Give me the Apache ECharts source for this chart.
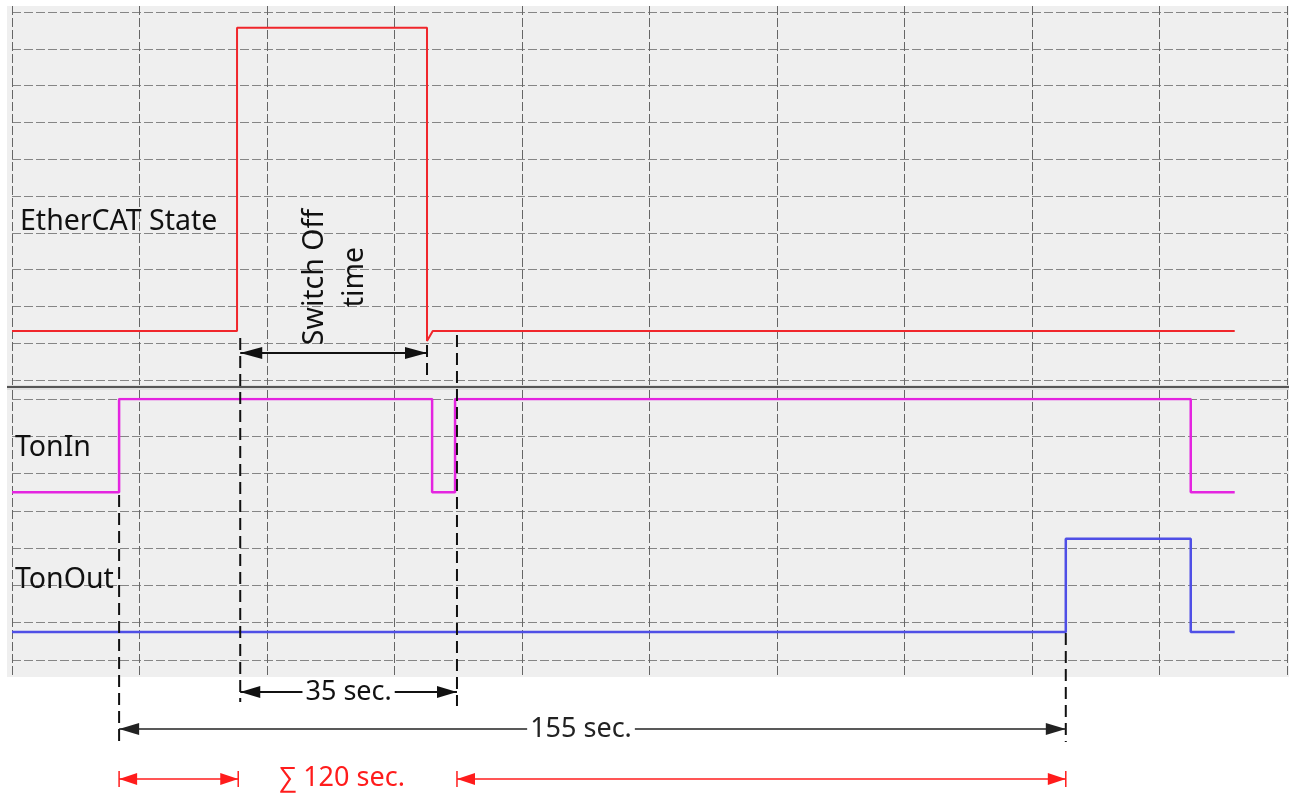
<!DOCTYPE html>
<html>
<head>
<meta charset="utf-8">
<script src="https://cdn.jsdelivr.net/npm/echarts@6/dist/echarts.min.js"></script>
<style>
html,body{margin:0;padding:0;background:#fff;}
#c{width:1289px;height:796px;}
</style>
</head>
<body>
<div id="c"></div>
<script>
// ---- data (time axis in seconds, grid step 20 s) ----
const xTicks = { min: 0, max: 200, step: 20 };
const stateT  = [0, 35.3, 35.3, 65.1, 65.1, 66.0, 191.8];
const stateV  = [1.33, 1.33, 9.57, 9.57, 1.06, 1.33, 1.33];
const tonInT  = [0, 16.8, 16.8, 65.9, 65.9, 69.5, 69.5, 184.9, 184.9, 191.8];
const tonInV  = [4.5, 4.5, 7.0, 7.0, 4.5, 4.5, 7.0, 7.0, 4.5, 4.5];
const tonOutT = [0, 165.3, 165.3, 184.9, 184.9, 191.8];
const tonOutV = [0.75, 0.75, 3.25, 3.25, 0.75, 0.75];
const signalNames = ['EtherCAT State', 'TonIn', 'TonOut'];
// annotation marker times
const markTonInRise = 16.8;
const markStateRise = 35.8;
const markStateFall = 65.1;
const markTonInBack = 69.8;
const markTonOutRise = 165.3;
const annTexts = ['Switch Off\ntime', '35 sec.', '155 sec.', '\u2211 120 sec.'];

const zip = (a, b) => a.map((t, i) => [t, b[i]]);
const FONT = '27px "Noto Sans", "Open Sans", sans-serif';
const FONT_L = '28.5px "Noto Sans", "Open Sans", sans-serif';
const chart = echarts.init(document.getElementById('c'), null, { renderer: 'canvas' });

const gridLine = { show: true, lineStyle: { color: '#858585', width: 1, type: [9, 3] } };
function xAx(gi, split) {
  return { type: 'value', gridIndex: gi, min: xTicks.min, max: xTicks.max, interval: xTicks.step,
    axisLine: { show: false }, axisTick: { show: false }, axisLabel: { show: false },
    splitLine: split ? { show: true, lineStyle: { color: '#666', width: 1, type: [9, 3] } } : { show: false } };
}
function yAx(gi, max, split) {
  return { type: 'value', gridIndex: gi, min: 0, max: max, interval: 1,
    axisLine: { show: false }, axisTick: { show: false }, axisLabel: { show: false },
    splitLine: split ? gridLine : { show: false } };
}

chart.setOption({
  animation: false,
  backgroundColor: '#ffffff',
  grid: [
    { left: 12, width: 1275, top: 12, height: 368 },
    { left: 12, width: 1275, top: 399, height: 261 },
    { left: 12, width: 1275, top: 6, height: 379 },
    { left: 12, width: 1275, top: 390, height: 287 }
  ],
  xAxis: [xAx(0, false), xAx(1, false), xAx(2, true), xAx(3, true)],
  yAxis: [yAx(0, 10, true), yAx(1, 7, true), yAx(2, 1, false), yAx(3, 1, false)],
  series: [
    { name: signalNames[0], type: 'line', xAxisIndex: 0, yAxisIndex: 0, showSymbol: false, z: 5,
      data: zip(stateT, stateV), lineStyle: { color: '#f0262b', width: 2 } },
    { name: signalNames[1], type: 'line', xAxisIndex: 1, yAxisIndex: 1, showSymbol: false, z: 5,
      data: zip(tonInT, tonInV), lineStyle: { color: '#e424e0', width: 2.5 } },
    { name: signalNames[2], type: 'line', xAxisIndex: 1, yAxisIndex: 1, showSymbol: false, z: 5,
      data: zip(tonOutT, tonOutV), lineStyle: { color: '#4f4fe6', width: 2.5 } }
  ]
});

// ---- annotations, positioned through the x scale ----
const X = t => chart.convertToPixel({ xAxisIndex: 0 }, t);
const ctx = document.createElement('canvas').getContext('2d');
ctx.font = FONT;
const tw = s => ctx.measureText(s).width;

const G = [];
// panel backgrounds and separator
G.push({ type: 'rect', z: -10, shape: { x: 7, y: 6, width: 1282, height: 379 }, style: { fill: '#efefef' }, silent: true });
G.push({ type: 'rect', z: -10, shape: { x: 7, y: 390, width: 1282, height: 287 }, style: { fill: '#efefef' }, silent: true });
G.push({ type: 'rect', z: -10, shape: { x: 7, y: 385, width: 1282, height: 5 }, style: { fill: '#dedede' }, silent: true });
G.push({ type: 'line', z: 1, shape: { x1: 7, y1: 387, x2: 1289, y2: 387 }, style: { stroke: '#555', lineWidth: 2 }, silent: true });

function vdash(t, y1, y2) {
  const x = X(t);
  G.push({ type: 'line', z: 20, shape: { x1: x, y1: y1, x2: x, y2: y2 }, style: { stroke: '#111', lineWidth: 2, lineDash: [12, 6] } });
}
function seg(x1, x2, y, color, w) {
  G.push({ type: 'line', z: 20, shape: { x1: x1, y1: y, x2: x2, y2: y }, style: { stroke: color, lineWidth: w } });
}
function head(x, y, dir, color, len, half) {
  G.push({ type: 'polygon', z: 21, shape: { points: [[x, y], [x - dir * len, y - half], [x - dir * len, y + half]] }, style: { fill: color } });
}
function bar(x, y, color) {
  G.push({ type: 'line', z: 21, shape: { x1: x, y1: y - 8, x2: x, y2: y + 8 }, style: { stroke: color, lineWidth: 1.5 } });
}
function label(text, x, y, color) {
  G.push({ type: 'text', z: 22, x: x, y: y, style: { text: text, font: FONT, fill: color,
    align: 'center', verticalAlign: 'middle', textAlign: 'center', textVerticalAlign: 'middle' } });
}
function dimArrow(xa, xb, y, text, xc, color, w) {
  const half = tw(text) / 2 + 3;
  seg(xa, xc - half, y, color, w);
  seg(xc + half, xb, y, color, w);
  head(xa, y, -1, color, 20, 6);
  head(xb, y, 1, color, 20, 6);
  label(text, xc, y, color);
}

// dashed guide lines
vdash(markTonInRise, 495, 742);
vdash(markStateRise, 338, 702);
vdash(markStateFall, 345, 376);
vdash(markTonInBack, 335, 706);
vdash(markTonOutRise, 633, 742);

// Switch Off time
const xs1 = X(markStateRise), xs2 = X(markStateFall);
seg(xs1, xs2, 353, '#111', 2);
head(xs1, 353, -1, '#111', 22, 6);
head(xs2, 353, 1, '#111', 22, 6);
G.push({ type: 'text', z: 22, x: 335, y: 277, rotation: Math.PI / 2,
  style: { text: annTexts[0], font: FONT_L, fill: '#111', lineHeight: 40,
    align: 'center', verticalAlign: 'middle', textAlign: 'center', textVerticalAlign: 'middle' } });

// 35 sec.
dimArrow(X(markStateRise), X(markTonInBack), 692, annTexts[1], (X(markStateRise) + X(markTonInBack)) / 2, '#111', 2);
// 155 sec.
dimArrow(X(markTonInRise), X(markTonOutRise), 729, annTexts[2], 581, '#222', 1.6);

// Σ 120 sec. (red)
const red = '#ff1c1c';
const r1 = X(markTonInRise), r2 = X(markStateRise) - 2, r3 = X(markTonInBack), r4 = X(markTonOutRise);
seg(r1, r2, 779, red, 1.5); head(r1, 779, -1, red, 18, 6); head(r2, 779, 1, red, 18, 6); bar(r1, 779, red); bar(r2, 779, red);
seg(r3, r4, 779, red, 1.5); head(r3, 779, -1, red, 18, 6); head(r4, 779, 1, red, 18, 6); bar(r3, 779, red); bar(r4, 779, red);
label(annTexts[3], 342, 778, red);

// signal labels
function leftLabel(text, x, y) {
  G.push({ type: 'text', z: 22, x: x, y: y, style: { text: text, font: FONT_L, fill: '#111',
    align: 'left', verticalAlign: 'middle', textAlign: 'left', textVerticalAlign: 'middle' } });
}
leftLabel(signalNames[0], 20, 222);
leftLabel(signalNames[1], 15, 448);
leftLabel(signalNames[2], 15, 580);

chart.setOption({ graphic: { elements: G } });
</script>
</body>
</html>
